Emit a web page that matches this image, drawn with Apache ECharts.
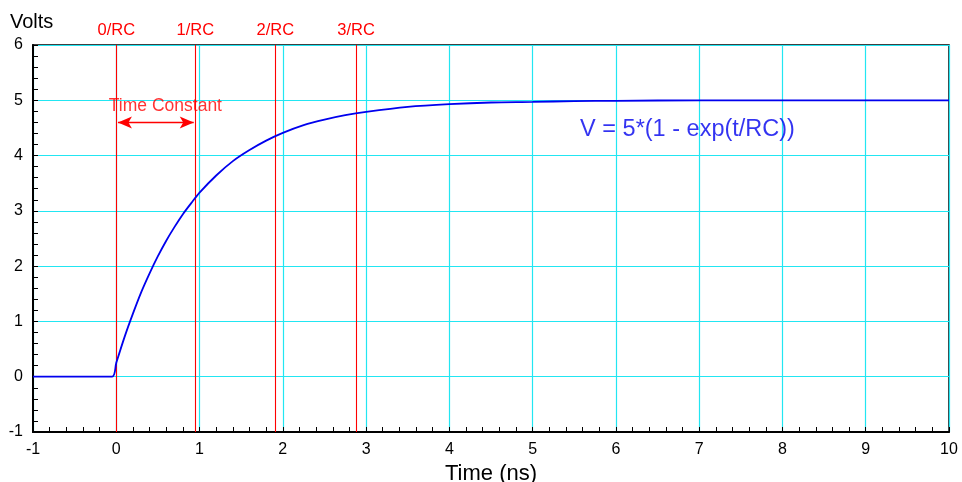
<!DOCTYPE html>
<html>
<head>
<meta charset="utf-8">
<script src="https://cdn.jsdelivr.net/npm/echarts@6/dist/echarts.min.js"></script>
<style>html,body{margin:0;padding:0;background:#fff}#c{width:962px;height:482px}</style>
</head>
<body>
<div id="c"></div>
<script>
// RC charging curve: time (ns) vs voltage (V)
const timeNs = [-1, -0.5, -0.05, 0, 0.1, 0.2, 0.3, 0.4, 0.5, 0.6, 0.7, 0.8, 0.9, 1.0, 1.2, 1.4, 1.6, 1.8, 2.0, 2.25, 2.5, 2.75, 3.0, 3.5, 4.0, 4.5, 5.0, 5.5, 6.0, 7.0, 8.0, 9.0, 10.0];
const volts  = [0, 0, 0, 0.25, 0.72, 1.14, 1.53, 1.87, 2.18, 2.46, 2.71, 2.94, 3.14, 3.33, 3.64, 3.90, 4.10, 4.27, 4.41, 4.55, 4.65, 4.73, 4.79, 4.88, 4.93, 4.96, 4.97, 4.985, 4.99, 5.0, 5.0, 5.0, 5.0];

// multiples of the time constant
const rcLabels = ['0/RC', '1/RC', '2/RC', '3/RC'];
const rcTimes  = [0, 0.955, 1.91, 2.885];

const arrowSpan = [0.02, 0.93];
const arrowLevel = 4.6;

const xTicks = { min: -1, max: 10, step: 1 };
const yTicks = { min: -1, max: 6, step: 1 };

const FONT = '"Liberation Sans", Arial, Helvetica, sans-serif';
const chart = echarts.init(document.getElementById('c'));

const axisCommon = {
  type: 'value',
  axisLine: { show: true, onZero: false, lineStyle: { color: '#000', width: 2 } },
  axisTick: { show: true, inside: true, length: 5, lineStyle: { color: '#000', width: 1 } },
  minorTick: { show: true, splitNumber: 5, length: 5, lineStyle: { color: '#000', width: 1 } },
  splitLine: { show: true, lineStyle: { color: '#22e6f2', width: 1.2 } },
  axisLabel: { color: '#000', fontSize: 16, fontFamily: FONT }
};

chart.setOption({
  animation: false,
  backgroundColor: '#fff',
  grid: {
    left: 33, top: 45, right: 13, bottom: 50,
    outerBoundsMode: 'none', containLabel: false,
    show: true, borderColor: '#000', borderWidth: 1.5, backgroundColor: 'transparent'
  },
  xAxis: Object.assign({}, axisCommon, {
    min: xTicks.min, max: xTicks.max, interval: xTicks.step,
    name: 'Time (ns)', nameLocation: 'middle', nameGap: 22,
    nameTextStyle: { color: '#000', fontSize: 22, fontFamily: FONT },
    axisLabel: Object.assign({}, axisCommon.axisLabel, { margin: 10 })
  }),
  yAxis: Object.assign({}, axisCommon, {
    min: yTicks.min, max: yTicks.max, interval: yTicks.step,
    name: 'Volts', nameLocation: 'end', nameGap: 13,
    nameTextStyle: { color: '#000', fontSize: 20, fontFamily: FONT, align: 'left', padding: [0, 0, 0, -23] },
    axisLabel: Object.assign({}, axisCommon.axisLabel, { margin: 10 })
  }),
  series: [
    {
      type: 'line',
      data: timeNs.map((t, i) => [t, volts[i]]),
      showSymbol: false,
      smooth: 0.3,
      lineStyle: { color: '#0000ee', width: 1.8 },
      z: 5,
      markLine: {
        silent: true,
        symbol: ['none', 'none'],
        lineStyle: { color: '#ff0000', width: 1.1, type: 'solid' },
        label: {
          show: true, position: 'end', distance: 6, color: '#ff0000', fontSize: 16.5, fontFamily: FONT,
          formatter: p => rcLabels[p.dataIndex]
        },
        data: rcTimes.map(t => ({ xAxis: t }))
      }
    },
    {
      // time-constant span arrow
      type: 'line',
      data: [],
      markLine: {
        silent: true,
        symbol: ['arrow', 'arrow'],
        symbolSize: [9, 14],
        lineStyle: { color: '#ff0000', width: 1.3, type: 'solid' },
        label: { show: false },
        data: [[{ coord: [arrowSpan[0], arrowLevel] }, { coord: [arrowSpan[1], arrowLevel] }]]
      }
    },
    {
      type: 'scatter',
      symbolSize: 0,
      silent: true,
      data: [[0.59, 4.9]],
      label: { show: true, position: 'inside', formatter: 'Time Constant', color: '#ff0000', fontSize: 17.5, fontFamily: FONT }
    },
    {
      type: 'scatter',
      symbolSize: 0,
      silent: true,
      data: [[6.86, 4.48]],
      label: { show: true, position: 'inside', formatter: 'V = 5*(1 - exp(t/RC))', color: '#0000ee', fontSize: 23.5, fontFamily: FONT }
    }
  ]
});
</script>
</body>
</html>
